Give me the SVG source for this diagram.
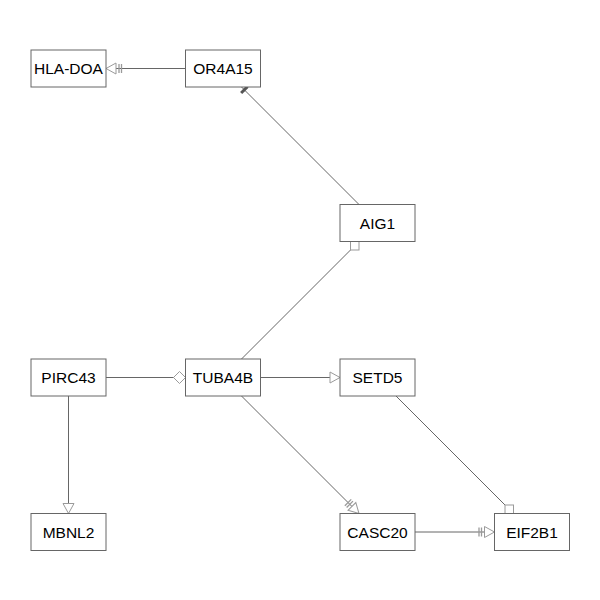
<svg xmlns="http://www.w3.org/2000/svg" width="600" height="600" viewBox="0 0 600 600">
  <style>
    .node rect { fill: #ffffff; stroke: #666666; stroke-width: 1; }
    .node text { font-family: "Liberation Sans", Arial, sans-serif; font-size: 15.5px; fill: #000000; text-anchor: middle; }
    .edge { fill: none; stroke: #666666; stroke-width: 1; }
    .head { fill: #ffffff; stroke: #9a9a9a; stroke-width: 1; }
    .bar { stroke: #9a9a9a; stroke-width: 1.3; }
  </style>
  <defs>
    <marker id="tri" markerUnits="userSpaceOnUse" orient="auto" overflow="visible" markerWidth="1" markerHeight="1">
      <path class="head" d="M0,0 L-10,-5.5 L-10,5.5 Z"/>
    </marker>
    <marker id="triBars" markerUnits="userSpaceOnUse" orient="auto" overflow="visible" markerWidth="1" markerHeight="1">
      <path class="head" d="M0,0 L-10,-5.5 L-10,5.5 Z"/>
      <line class="bar" x1="-13" y1="-4.5" x2="-13" y2="4.5"/>
      <line class="bar" x1="-15.5" y1="-4.5" x2="-15.5" y2="4.5"/>
    </marker>
    <marker id="diamond" markerUnits="userSpaceOnUse" orient="auto" overflow="visible" markerWidth="1" markerHeight="1">
      <path class="head" d="M0,0 L-6,-6 L-12,0 L-6,6 Z"/>
    </marker>
    <marker id="tee" markerUnits="userSpaceOnUse" orient="auto" overflow="visible" markerWidth="1" markerHeight="1">
      <line x1="-4" y1="-4.5" x2="-4" y2="4.5" stroke="#555555" stroke-width="3"/>
    </marker>
  </defs>

  <g id="connectors">
    <path class="edge" d="M185.5,68.5 L106,68.5" marker-end="url(#triBars)"/>
    <path class="edge" d="M359,204.5 L241.5,87" marker-end="url(#tee)"/>
    <path class="edge" d="M241.5,359 L359,241.5" marker-end="url(#diamond)"/>
    <path class="edge" d="M106,377.5 L185.5,377.5" marker-end="url(#diamond)"/>
    <path class="edge" d="M260.5,377.5 L340,377.5" marker-end="url(#tri)"/>
    <path class="edge" d="M68.5,396 L68.5,513.5" marker-end="url(#tri)"/>
    <path class="edge" d="M241.5,396 L359,513.5" marker-end="url(#triBars)"/>
    <path class="edge" d="M396,396 L513.5,513.5" marker-end="url(#diamond)"/>
    <path class="edge" d="M415,532 L494.5,532" marker-end="url(#triBars)"/>
  </g>

  <g id="HLA-DOA" class="node"><rect x="31" y="50" width="75" height="37"/><text x="68.5" y="74">HLA-DOA</text></g>
  <g id="OR4A15" class="node"><rect x="185.5" y="50" width="75" height="37"/><text x="223" y="74">OR4A15</text></g>
  <g id="AIG1" class="node"><rect x="340" y="204.5" width="75" height="37"/><text x="377.5" y="228.5">AIG1</text></g>
  <g id="PIRC43" class="node"><rect x="31" y="359" width="75" height="37"/><text x="68.5" y="383">PIRC43</text></g>
  <g id="TUBA4B" class="node"><rect x="185.5" y="359" width="75" height="37"/><text x="223" y="383">TUBA4B</text></g>
  <g id="SETD5" class="node"><rect x="340" y="359" width="75" height="37"/><text x="377.5" y="383">SETD5</text></g>
  <g id="MBNL2" class="node"><rect x="31" y="513.5" width="75" height="37"/><text x="68.5" y="537.5">MBNL2</text></g>
  <g id="CASC20" class="node"><rect x="340" y="513.5" width="75" height="37"/><text x="377.5" y="537.5">CASC20</text></g>
  <g id="EIF2B1" class="node"><rect x="494.5" y="513.5" width="75" height="37"/><text x="532" y="537.5">EIF2B1</text></g>
</svg>
